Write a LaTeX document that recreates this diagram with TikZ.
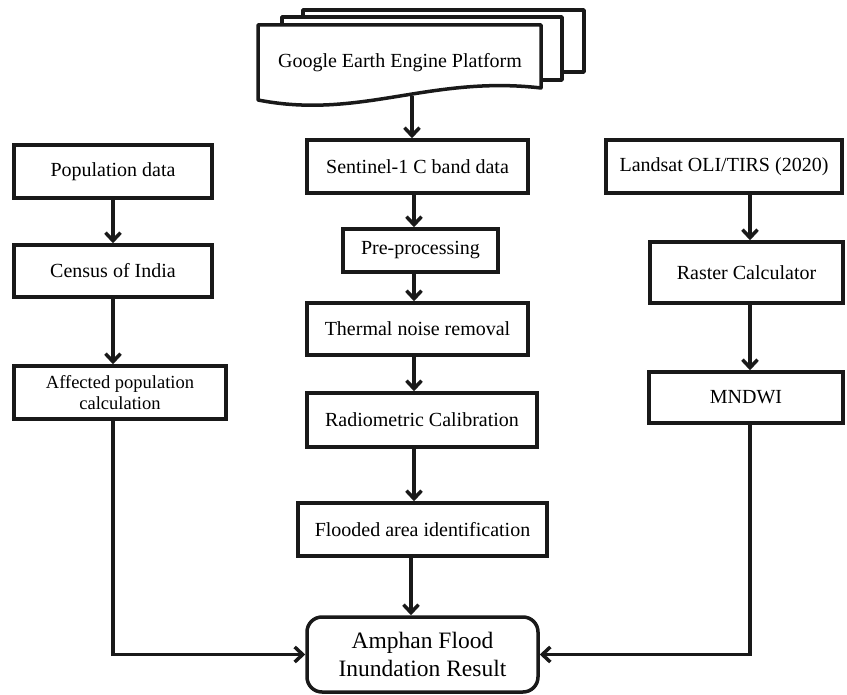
\documentclass[tikz,border=0pt]{standalone}
\usepackage{fontspec}
\setmainfont{Liberation Serif}
\usetikzlibrary{arrows.meta}
\tikzset{
  box/.style={draw=black!90, line width=3.5pt, fill=white, inner sep=0pt, align=center,
    font=\fontsize{20}{24}\selectfont},
  arr/.style={draw=black!90, line width=3.5pt, -{Straight Barb[length=8pt,width=15pt]}},
  docsh/.style={draw=black!90, line width=3.5pt, fill=white, line join=round},
}
\begin{document}
\begin{tikzpicture}[x=1pt,y=-1pt]
\useasboundingbox (0,0) rectangle (847,695);
% multi-document shape
\draw[docsh] (303,10) rectangle (584,72);
\draw[docsh] (282,17) rectangle (562,80);
\draw[docsh] (258,25) -- (541,25) -- (541,88) .. controls (430,75) and (360,120) .. (258,100) -- cycle;
\node[inner sep=0pt, font=\fontsize{20}{24}\selectfont] (gee) at (400,63) {Google Earth Engine Platform};
\coordinate (geebot) at (412,96);
\coordinate (mx) at (414,0);

% left column
\node[box, minimum width=198pt, minimum height=53pt] (pop) at (113,171.5) {Population data};
\node[box, minimum width=198pt, minimum height=52pt] (census) at (113,271) {Census of India};
\node[box, minimum width=212pt, minimum height=53pt, font=\fontsize{18.5}{21}\selectfont] (aff) at (120,392.5) {Affected population\\calculation};

% middle column
\node[box, minimum width=221pt, minimum height=53pt] (sent) at (417.5,166.5) {Sentinel-1 C band data};
\node[box, minimum width=155pt, minimum height=43pt] (pre) at (420.5,250.5) {Pre-processing};
\node[box, minimum width=221pt, minimum height=52pt] (therm) at (417.5,329) {Thermal noise removal};
\node[box, minimum width=230pt, minimum height=54pt] (radio) at (422,420) {Radiometric Calibration};
\node[box, minimum width=249pt, minimum height=53pt] (flood) at (422.5,529.5) {Flooded area identification};
\node[box, rounded corners=15pt, minimum width=231pt, minimum height=75pt, font=\fontsize{23.5}{28}\selectfont] (res) at (422.5,654.5) {Amphan Flood\\Inundation Result};

% right column
\node[box, minimum width=236pt, minimum height=53pt] (land) at (724,166.5) {Landsat OLI/TIRS (2020)};
\node[box, minimum width=193pt, minimum height=61pt] (rast) at (746.5,272.5) {Raster Calculator};
\node[box, minimum width=194pt, minimum height=51pt] (mnd) at (746,397.5) {MNDWI};

\coordinate (lx) at (113,0);
\coordinate (rx) at (750,0);
\coordinate (fx) at (411,0);

% connectors
\draw[arr] (geebot) -- (sent.north -| geebot);
\draw[arr] (sent.south -| mx) -- (pre.north -| mx);
\draw[arr] (pre.south -| mx) -- (therm.north -| mx);
\draw[arr] (therm.south -| mx) -- (radio.north -| mx);
\draw[arr] (radio.south -| mx) -- (flood.north -| mx);
\draw[arr] (flood.south -| fx) -- (res.north -| fx);

\draw[arr] (pop.south -| lx) -- (census.north -| lx);
\draw[arr] (census.south -| lx) -- (aff.north -| lx);
\draw[arr] (aff.south -| lx) |- (res.west);

\draw[arr] (land.south -| rx) -- (rast.north -| rx);
\draw[arr] (rast.south -| rx) -- (mnd.north -| rx);
\draw[arr] (mnd.south -| rx) |- (res.east);
\end{tikzpicture}
\end{document}
